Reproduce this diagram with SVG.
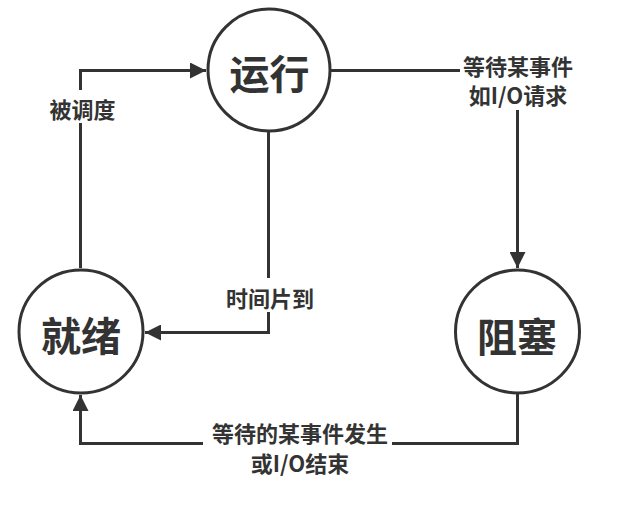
<svg xmlns="http://www.w3.org/2000/svg" width="635" height="516" viewBox="0 0 635 516">
<style>
.node{fill:#fff;stroke:#333;stroke-width:3}
.nt{font-family:"Noto Sans CJK SC","Liberation Sans",sans-serif;font-size:40px;font-weight:bold;fill:#333;text-anchor:middle;dominant-baseline:central}
.lt{font-family:"Noto Sans CJK SC","Liberation Sans",sans-serif;font-size:22px;font-weight:bold;fill:#333;text-anchor:middle;dominant-baseline:central}
.ln{fill:none;stroke:#333;stroke-width:3}
</style>
<defs>
<marker id="ah" viewBox="0 0 10 10" refX="10" refY="5" markerWidth="24" markerHeight="16" markerUnits="userSpaceOnUse" orient="auto">
<path d="M0,0 L10,5 L0,10 Z" fill="#333"/>
</marker>
</defs>
<rect width="635" height="516" fill="#fff"/>
<g id="connectors">
<path class="ln" d="M80.5,268 V123"/>
<path class="ln" d="M80.5,90 V70.5 H206" marker-end="url(#ah)"/>
<text class="lt" x="82.5" y="108">被调度</text>
<path class="ln" d="M331,70.5 H460"/>
<text class="lt" x="518" y="65">等待某事件</text>
<text class="lt" x="518" y="94">如I/O请求</text>
<path class="ln" d="M517.5,110 V268" marker-end="url(#ah)"/>
<path class="ln" d="M268.5,132 V278"/>
<text class="lt" x="270" y="297">时间片到</text>
<path class="ln" d="M268.5,312 V332.5 H145" marker-end="url(#ah)"/>
<path class="ln" d="M517.5,393 V443.5 H392"/>
<path class="ln" d="M203,443.5 H80.5 V395" marker-end="url(#ah)"/>
<text class="lt" x="300" y="432">等待的某事件发生</text>
<text class="lt" x="300" y="462">或I/O结束</text>
</g>
<g id="node-running">
<ellipse class="node" cx="269" cy="70" rx="61" ry="61"/>
<text class="nt" x="269.5" y="72">运行</text>
</g>
<g id="node-ready">
<ellipse class="node" cx="81" cy="331.5" rx="62" ry="61.5"/>
<text class="nt" x="81" y="334">就绪</text>
</g>
<g id="node-blocked">
<ellipse class="node" cx="517.5" cy="331.5" rx="62" ry="61.5"/>
<text class="nt" x="517" y="335">阻塞</text>
</g>
</svg>
